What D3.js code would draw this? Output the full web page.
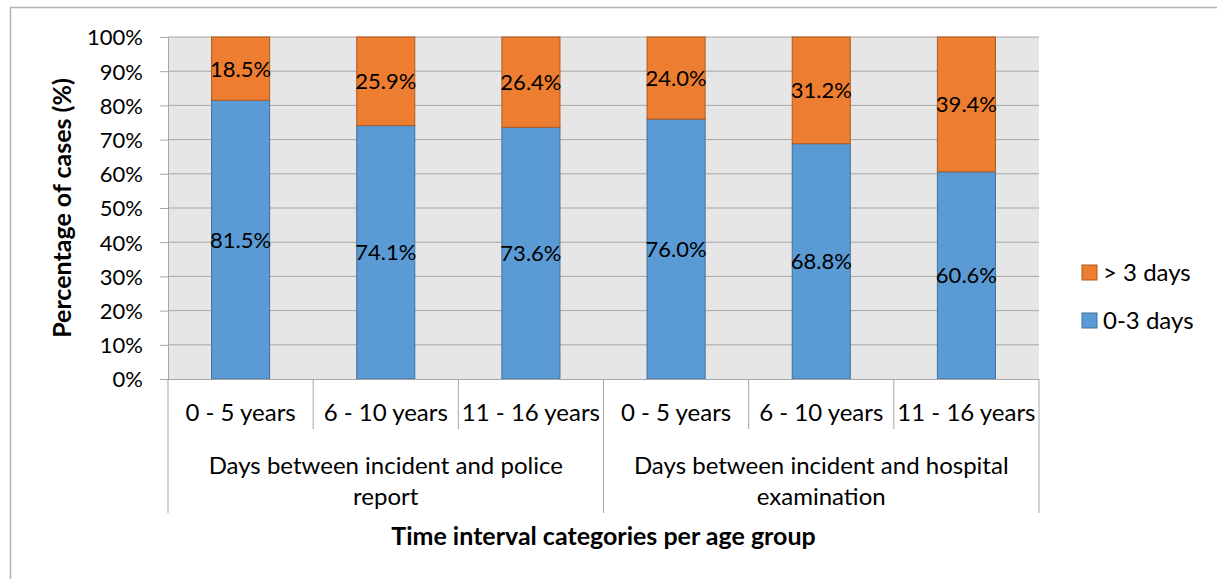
<!DOCTYPE html>
<html>
<head>
<meta charset="utf-8">
<script src="https://cdn.jsdelivr.net/npm/d3@7"></script>
<style>
  html, body { margin: 0; padding: 0; background: #fff; }
  svg { display: block; font-family: Lato, "Open Sans", sans-serif; }
</style>
</head>
<body>
<svg id="chart" width="1217" height="579"></svg>
<script>
// Age groups within each time-interval group
const ageGroups = ["0 - 5 years", "6 - 10 years", "11 - 16 years"];
const intervalGroups = ["Days between incident and police report", "Days between incident and hospital examination"];
const intervalGroupLines = [["Days between incident and police", "report"], ["Days between incident and hospital", "examination"]];
// Share of cases (%) per bar, in order: police 0-5, 6-10, 11-16, hospital 0-5, 6-10, 11-16
const within3Days = [81.5, 74.1, 73.6, 76.0, 68.8, 60.6];
const over3Days = [18.5, 25.9, 26.4, 24.0, 31.2, 39.4];
const seriesNames = ["0-3 days", "> 3 days"];
const yTicks = [0, 10, 20, 30, 40, 50, 60, 70, 80, 90, 100];

const svg = d3.select("#chart");
const plot = { left: 168, right: 1039, top: 37, bottom: 379 };
const colors = { "0-3 days": "#5b9bd5", "> 3 days": "#ed7d31" };
const strokes = { "0-3 days": "#41719c", "> 3 days": "#ae5a21" };
const numSize = 22, textSize = 24, titleSize = 25;

// Outer chart frame
svg.append("rect")
  .attr("x", 10.5).attr("y", 7.5).attr("width", 1240).attr("height", 600)
  .attr("fill", "none").attr("stroke", "#b3b3b3").attr("stroke-width", 1.5);

const cats = d3.range(within3Days.length);
const x = d3.scaleBand().domain(cats).range([plot.left, plot.right]).padding(0);
const y = d3.scaleLinear().domain([0, 100]).range([plot.bottom, plot.top]);
const barW = x.bandwidth() * 0.4;

// Plot background
svg.append("rect")
  .attr("x", plot.left).attr("y", plot.top)
  .attr("width", plot.right - plot.left).attr("height", plot.bottom - plot.top)
  .attr("fill", "#e7e6e6");

// Y axis with gridlines
const yAxis = svg.append("g")
  .attr("transform", `translate(${plot.left},0)`)
  .call(d3.axisLeft(y).tickValues(yTicks).tickFormat(d => d + "%")
    .tickSize(8).tickSizeOuter(0));
yAxis.select(".domain").attr("stroke", "#a6a6a6");
yAxis.selectAll(".tick line").attr("stroke", "#a6a6a6");
yAxis.selectAll(".tick text")
  .attr("x", -25).attr("dy", "0.36em")
  .attr("font-size", numSize).attr("fill", "#000").attr("font-family", "Lato");

svg.append("g").selectAll("line")
  .data(yTicks.filter(t => t > 0))
  .join("line")
  .attr("x1", plot.left).attr("x2", plot.right)
  .attr("y1", d => y(d)).attr("y2", d => y(d))
  .attr("stroke", "#a6a6a6").attr("stroke-width", 1);

// Stacked bars
const rows = cats.map(i => ({ i, "0-3 days": within3Days[i], "> 3 days": over3Days[i] }));
const stack = d3.stack().keys(seriesNames)(rows);

const layers = svg.append("g").selectAll("g")
  .data(stack).join("g")
  .attr("fill", d => colors[d.key])
  .attr("stroke", d => strokes[d.key]);

layers.selectAll("rect")
  .data(d => d)
  .join("rect")
  .attr("x", d => x(d.data.i) + (x.bandwidth() - barW) / 2)
  .attr("y", d => y(d[1]))
  .attr("width", barW)
  .attr("height", d => y(d[0]) - y(d[1]))
  .attr("stroke-width", 1);

// Value labels centred on each segment
const labels = svg.append("g").attr("font-size", numSize).attr("text-anchor", "middle").attr("fill", "#000");
stack.forEach(layer => {
  labels.selectAll(null)
    .data(layer)
    .join("text")
    .attr("x", d => x(d.data.i) + x.bandwidth() / 2)
    .attr("y", d => y((d[0] + d[1]) / 2))
    .attr("dy", "0.36em")
    .text(d => d.data[layer.key].toFixed(1) + "%");
});

// Multi-level category axis
const axisColor = "#a6a6a6";
const sep = svg.append("g").attr("stroke", axisColor).attr("stroke-width", 1);
sep.append("line").attr("x1", plot.left).attr("x2", plot.right)
  .attr("y1", plot.bottom + 0.5).attr("y2", plot.bottom + 0.5);
d3.range(cats.length + 1).forEach(k => {
  const xp = plot.left + k * x.step();
  const isGroupEdge = k % ageGroups.length === 0;
  sep.append("line")
    .attr("x1", xp).attr("x2", xp)
    .attr("y1", plot.bottom).attr("y2", isGroupEdge ? 513 : 429);
});

svg.append("g").attr("font-size", textSize).attr("text-anchor", "middle")
  .selectAll("text")
  .data(cats)
  .join("text")
  .attr("x", i => x(i) + x.bandwidth() / 2)
  .attr("y", 421)
  .text(i => ageGroups[i % ageGroups.length]);

const groupW = x.step() * ageGroups.length;
intervalGroups.forEach((g, gi) => {
  const t = svg.append("text")
    .attr("x", plot.left + groupW * gi + groupW / 2)
    .attr("y", 474)
    .attr("font-size", textSize).attr("text-anchor", "middle");
  intervalGroupLines[gi].forEach((line, li) => {
    t.append("tspan").attr("x", plot.left + groupW * gi + groupW / 2)
      .attr("dy", li === 0 ? 0 : 31).text(line);
  });
});

// Axis titles
svg.append("text")
  .attr("x", (plot.left + plot.right) / 2).attr("y", 545)
  .attr("text-anchor", "middle").attr("font-size", titleSize).attr("font-weight", "bold")
  .text("Time interval categories per age group");

svg.append("text")
  .attr("transform", `translate(71,${(plot.top + plot.bottom) / 2}) rotate(-90)`)
  .attr("text-anchor", "middle").attr("font-size", titleSize).attr("font-weight", "bold")
  .text("Percentage of cases (%)");

// Legend
const legendItems = ["> 3 days", "0-3 days"];
const legend = svg.append("g").selectAll("g")
  .data(legendItems).join("g")
  .attr("transform", (d, i) => `translate(1082,${265 + i * 48})`);
legend.append("rect")
  .attr("width", 15).attr("height", 15)
  .attr("fill", d => colors[d]).attr("stroke", d => strokes[d]);
legend.append("text")
  .attr("x", 21).attr("y", 7.5).attr("dy", "0.36em")
  .attr("font-size", textSize)
  .text(d => d);
</script>
</body>
</html>
